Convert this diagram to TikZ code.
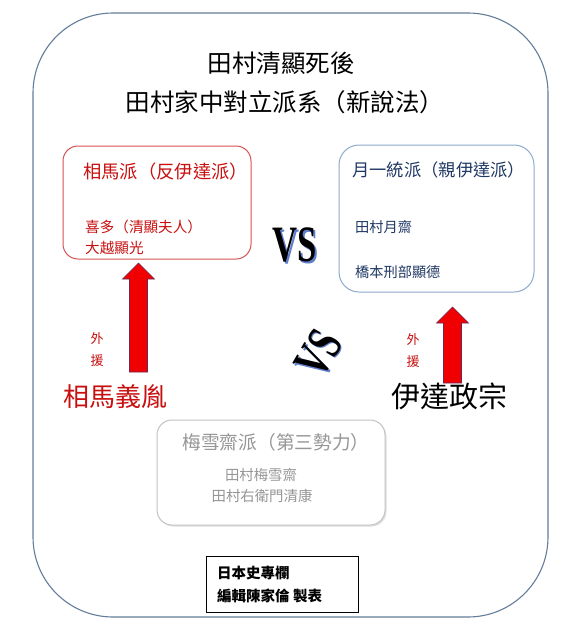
\documentclass[tikz,border=0pt]{standalone}
\usepackage{fontspec}
\newfontfamily\cjk{Noto Sans CJK TC}
\newfontfamily\vsfont{Liberation Serif}
\usetikzlibrary{calc,shadows}

\definecolor{redtxt}{RGB}{200,16,16}
\definecolor{redline}{RGB}{214,84,84}
\definecolor{bluetxt}{RGB}{31,56,100}
\definecolor{blueline}{RGB}{140,170,205}
\definecolor{graytxt}{RGB}{150,150,150}
\definecolor{grayline}{RGB}{195,195,195}
\definecolor{outerline}{RGB}{100,125,155}
\definecolor{arrowred}{RGB}{240,0,0}
\definecolor{arrowedge}{RGB}{105,40,85}
\definecolor{vsblue}{RGB}{95,125,205}

\newcommand{\fs}[1]{\fontsize{#1}{#1}\selectfont}

\tikzset{
  panel/.style={draw, rounded corners=15, line width=1, inner sep=0},
  cjktext/.style={inner sep=0, font=\cjk\fs{#1}},
  vsmark/.style={inner sep=0, transform shape, font=\vsfont\bfseries\fs{51}},
  bigarrow/.style={fill=arrowred, draw=arrowedge, line width=0.6}
}

% block arrow from tail (#1) up to tip (#2)
\newcommand{\blockarrow}[2]{%
  \draw[bigarrow] ($(#1)+(-9,0)$) -- ($(#2)+(-9,16)$) -- ($(#2)+(-16,16)$)
    -- (#2) -- ($(#2)+(16,16)$) -- ($(#2)+(9,16)$) -- ($(#1)+(9,0)$) -- cycle;}

\begin{document}
\begin{tikzpicture}[x=1pt,y=-1pt]
  \useasboundingbox (0,0) rectangle (567,640);
  \fill[white] (0,0) rectangle (567,640);

  % outer frame
  \draw[outerline, line width=1.1, rounded corners=80] (33,13) rectangle (548,617);

  % title
  \node[cjktext=24.5] (title) at (281,63) {田村清顯死後};
  \node[cjktext=24.5] (subtitle) at (285,102) {田村家中對立派系（新說法）};

  % Soma faction
  \node[panel, draw=redline, minimum width=188, minimum height=113] (soma) at (157,202.5) {};
  \node[cjktext=18.3, text=redtxt, anchor=west] (somahead) at (83,172) {相馬派（反伊達派）};
  \node[cjktext=14.6, text=redtxt, anchor=west] (kita) at (85,227) {喜多（清顯夫人）};
  \node[cjktext=14.6, text=redtxt, anchor=west] (okoshi) at (85,248) {大越顯光};

  % Tsukiichi faction
  \node[panel, draw=blueline, rounded corners=20, minimum width=195, minimum height=147] (getsu) at (436.5,218.5) {};
  \node[cjktext=17.3, text=bluetxt, anchor=west] (getsuhead) at (352,170) {月一統派（親伊達派）};
  \node[cjktext=14.2, text=bluetxt, anchor=west] (gessai) at (355,227) {田村月齋};
  \node[cjktext=14.2, text=bluetxt, anchor=west] (hashimoto) at (355,272) {橋本刑部顯德};

  % Baisetsusai faction
  \node[panel, draw=grayline, fill=white,
    drop shadow={shadow xshift=1.5pt, shadow yshift=-1.5pt, opacity=0.25},
    minimum width=228, minimum height=105] (bai) at (271,472.5) {};
  \node[cjktext=18.7, text=graytxt] (baihead) at (276,442) {梅雪齋派（第三勢力）};
  \node[cjktext=14.4, text=graytxt] (baisetsu) at (261,475) {田村梅雪齋};
  \node[cjktext=14.4, text=graytxt] (kiyoyasu) at (262,496) {田村右衛門清康};

  % VS marks
  \node[vsmark, xscale=0.68, text=vsblue] (vsashade) at (296.5,246.5) {VS};
  \node[vsmark, xscale=0.68] (vsa) at (295,245) {VS};
  \node[vsmark, rotate=60, xscale=0.68, text=vsblue] (vsbshade) at (320,355) {VS};
  \node[vsmark, rotate=60, xscale=0.68] (vsb) at (318.5,353.5) {VS};

  % outside support
  \node[cjktext=26, text=redtxt] (yoshitane) at (115,397) {相馬義胤};
  \node[cjktext=13, text=redtxt, align=center, font=\cjk\fontsize{13}{22}\selectfont] (aidl) at (97,350) {外\\援};
  \coordinate (sotail) at (138.5,372);
  \coordinate (sotip) at (138.5,263);
  \blockarrow{sotail}{sotip}

  \node[cjktext=29] (masamune) at (449,396) {伊達政宗};
  \node[cjktext=13, text=redtxt, align=center, font=\cjk\fontsize{13}{22}\selectfont] (aidr) at (413,351) {外\\援};
  \coordinate (datail) at (452.5,383);
  \coordinate (datip) at (452.5,307);
  \blockarrow{datail}{datip}

  % credit
  \node[draw, line width=0.8, minimum width=152, minimum height=56, inner sep=0] (credit) at (282,584) {};
  \node[cjktext=14.5, font=\cjk\bfseries\fs{14.5}, anchor=west] (column) at (217,573) {日本史專欄};
  \node[cjktext=14.5, font=\cjk\bfseries\fs{14.5}, anchor=west] (editor) at (217,596) {編輯陳家倫 製表};
\end{tikzpicture}
\end{document}
